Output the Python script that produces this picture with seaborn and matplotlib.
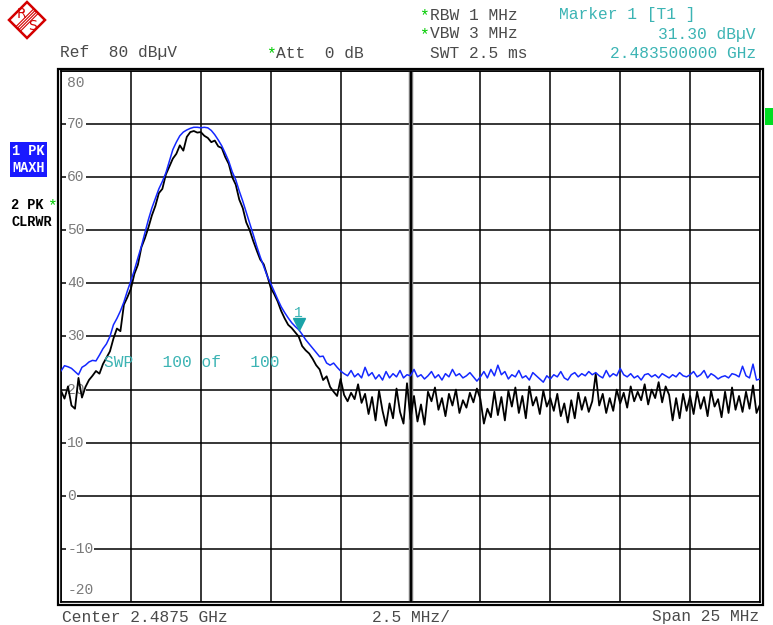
import numpy as np
import pandas as pd
import matplotlib.pyplot as plt
import seaborn as sns
from matplotlib.patches import Rectangle, Polygon
from matplotlib.lines import Line2D
from matplotlib.transforms import offset_copy

# Sweep settings (GHz / dBuV)
center_ghz = 2.4875
span_ghz = 0.025
n_points = 201
y_ticks = [80, 70, 60, 50, 40, 30, 20, 10, 0, -10, -20]
marker_freq = 2.4835
marker_level = 31.30

# Trace 1: PK / MAXH (blue)
trace1_maxh = [
    23.5, 24.5, 24.3, 24.0, 23.4, 22.8, 24.2, 24.6, 25.2, 25.5,
    25.4, 26.5, 27.7, 28.6, 30.0, 32.2, 33.4, 34.8, 36.5, 38.6,
    40.5, 42.5, 44.8, 47.0, 49.5, 52.0, 54.2, 56.0, 57.8, 59.2,
    60.8, 63.0, 65.2, 66.6, 67.8, 68.5, 68.9, 69.2, 69.4, 69.4,
    69.3, 69.4, 69.3, 68.8, 68.0, 67.0, 65.9, 64.5, 63.0, 61.0,
    59.5, 57.4, 55.5, 53.4, 51.3, 49.2, 47.0, 45.0, 43.2, 41.4,
    40.0, 38.5, 37.0, 35.6, 34.5, 33.5, 32.6, 31.9, 31.3, 30.4,
    29.4, 28.6, 27.8, 27.0, 26.2, 26.3, 25.0, 24.6, 25.0, 24.2,
    23.5,
    23.0, 22.6, 23.6, 22.4, 23.0, 22.2, 24.2, 22.6, 23.2, 22.0,
    22.8, 21.8, 23.4, 22.2, 23.0, 22.4, 23.6, 22.2, 22.8, 22.6,
    23.8, 22.4, 22.8, 22.0, 22.6, 23.4, 22.2, 22.8, 21.8, 23.0,
    22.4, 23.8, 22.6, 23.0, 22.2, 22.6, 23.2, 22.4, 21.6, 22.4,
    23.4, 22.2, 23.8, 22.6, 24.6, 22.8, 23.4, 22.0, 22.8, 22.4,
    23.6, 22.2, 22.6, 21.8, 23.2, 22.6, 22.0, 21.4, 22.6, 22.0,
    22.8, 22.4, 23.4, 22.2, 21.8, 22.8, 23.2, 22.4, 23.0, 22.6,
    23.4, 22.8, 23.2, 22.6, 22.2, 23.6, 22.4, 23.0, 22.6, 24.0,
    22.8, 22.4, 23.0, 22.2, 22.6, 21.8, 22.8, 23.0, 22.4, 22.8,
    22.2, 23.0, 22.6, 22.2, 22.8, 22.4, 23.2, 22.6, 22.4, 22.8,
    23.4, 22.4, 22.8, 23.6, 22.2, 23.0, 22.6, 22.0, 22.4, 22.6,
    22.2, 23.0, 22.8, 22.4, 24.4, 22.6, 22.2, 24.8, 21.8, 22.0,
]

# Trace 2: PK / CLRWR (black)
trace2_clrwr = [
    19.8, 18.3, 20.6, 17.0, 16.4, 22.2, 18.5, 20.5, 21.8, 22.6,
    23.5, 23.0, 24.8, 26.0, 27.2, 29.6, 31.5, 31.0, 36.0, 37.4,
    39.0, 41.8, 43.5, 46.8, 48.5, 50.5, 52.8, 54.6, 57.0, 57.8,
    60.5, 62.0, 63.5, 64.4, 66.0, 65.0, 67.6, 68.5, 68.7, 68.4,
    68.5, 67.8, 67.4, 66.6, 66.9, 65.8, 65.5, 63.8, 62.5, 60.0,
    58.6, 55.8, 54.2, 51.5, 50.0, 48.0, 46.2, 44.5, 43.6, 41.5,
    39.2, 38.0, 36.6, 34.8, 33.4, 32.2, 31.6, 30.8, 30.0, 28.2,
    27.4, 26.8, 25.8, 24.6, 23.8, 21.8, 22.5, 20.5, 19.6, 18.8,
    22.0,
    19.0, 17.8, 19.4, 18.2, 21.0, 17.5, 19.2, 15.4, 18.6, 14.2,
    19.8, 16.0, 13.2, 17.4, 14.6, 20.2, 15.8, 13.6, 21.2, 14.4,
    18.8, 14.0, 17.2, 13.4, 19.6, 17.8, 20.4, 16.2, 18.4, 15.0,
    19.2, 17.0, 20.0, 15.6, 18.0, 16.6, 19.4, 17.6, 20.2, 18.2,
    13.6, 16.4, 14.8, 19.6, 15.2, 18.6, 14.2, 19.8, 16.8, 20.4,
    15.6, 18.8, 14.6, 20.6, 17.0, 18.6, 15.4, 19.8, 16.8, 18.4,
    16.0, 19.2, 15.0, 17.4, 13.8, 18.0, 14.6, 19.4, 16.2, 18.6,
    15.8, 17.8, 23.0, 17.0, 19.2, 15.6, 18.4, 16.0, 20.0, 17.4,
    19.4, 16.6, 20.6, 17.8, 19.6, 18.0, 21.0, 17.2, 20.0, 18.4,
    21.4, 17.6, 20.6, 19.0, 14.2, 18.4, 14.6, 19.2, 16.0, 18.8,
    15.4, 19.6, 16.4, 18.6, 15.0, 19.8, 16.8, 18.2, 14.8, 19.6,
    15.6, 20.4, 16.2, 18.8, 15.8, 19.6, 16.4, 20.8, 15.6, 17.2,
]

f_start = center_ghz - span_ghz / 2
f_stop = center_ghz + span_ghz / 2
freqs = np.linspace(f_start, f_stop, n_points)
df = pd.DataFrame({"freq": freqs, "maxh": trace1_maxh, "clrwr": trace2_clrwr})

sns.set_style("white")
plt.rcParams["font.family"] = ["Liberation Mono", "DejaVu Sans Mono"]

W, H = 773, 625
fig = plt.figure(figsize=(W / 100, H / 100), dpi=100)


def px(x, y):
    """Pixel position (top-left origin) to figure fraction."""
    return x / W, 1 - y / H


ax_l, ax_r, ax_t, ax_b = 61, 760, 71, 602
ax = fig.add_axes([ax_l / W, 1 - ax_b / H, (ax_r - ax_l) / W, (ax_b - ax_t) / H])

sns.lineplot(data=df, x="freq", y="maxh", ax=ax, color="#1428ff", lw=1.1, zorder=4)
sns.lineplot(data=df, x="freq", y="clrwr", ax=ax, color="black", lw=1.3, zorder=3)

ax.set_xlim(f_start, f_stop)
ax.set_ylim(y_ticks[-1], y_ticks[0])
ax.set_xticks(np.linspace(f_start, f_stop, 11))
ax.set_yticks(y_ticks)
ax.tick_params(length=0, labelbottom=False, labelleft=False)
ax.set_xlabel("")
ax.set_ylabel("")
ax.grid(True, color="black", lw=1.1)
ax.set_axisbelow(True)
ax.axvline(center_ghz, color="#777777", lw=3.2, zorder=1)
ax.axvline(center_ghz, color="black", lw=1.4, zorder=1)
for s in ax.spines.values():
    s.set_color("black")
    s.set_linewidth(1.2)

# outer frame line
fig.patches.append(Rectangle(px(ax_l - 2.5, ax_b + 2.5), (ax_r - ax_l + 5) / W,
                             (ax_b - ax_t + 5) / H, transform=fig.transFigure,
                             fill=False, ec="black", lw=1.6))

# level labels sitting on the grid lines (traces draw over them)
for v in y_ticks:
    yv = v
    if v == y_ticks[0]:
        yv = v - 2.2
    elif v == y_ticks[-1]:
        yv = v + 2.2
    ax.text(0.009, yv, f"{v}", transform=ax.get_yaxis_transform(), ha="left",
            va="center", fontsize=10.5, color="#7a7a7a", zorder=2,
            bbox=dict(facecolor="white", edgecolor="none", pad=0.6))

# marker 1
tri = offset_copy(ax.transData, fig=fig, x=0, y=4, units="points")
ax.plot([marker_freq], [marker_level], marker="v", ms=8, color="#1aa3a8",
        transform=tri, zorder=6)
ax.annotate("1", (marker_freq, marker_level), xytext=(0, 12),
            textcoords="offset points", ha="center", va="center",
            fontsize=10.5, color="#3cb4b4", zorder=6)

cyan = "#3cb4b4"
gray = "#4a4a4a"
green = "#00cc00"
fs = 11.7

# header
fig.text(*px(60, 53), "Ref  80 dB\u00b5V", fontsize=fs, color=gray, va="center")
fig.text(*px(266, 54), "*", fontsize=fs, color=green, va="center")
fig.text(*px(276, 53), "Att  0 dB", fontsize=fs, color=gray, va="center")
fig.text(*px(419, 16), "*", fontsize=fs, color=green, va="center")
fig.text(*px(430, 15), "RBW 1 MHz", fontsize=fs, color=gray, va="center")
fig.text(*px(419, 35), "*", fontsize=fs, color=green, va="center")
fig.text(*px(430, 34), "VBW 3 MHz", fontsize=fs, color=gray, va="center")
fig.text(*px(430, 53), "SWT 2.5 ms", fontsize=fs, color=gray, va="center")
fig.text(*px(559, 15), "Marker 1 [T1 ]", fontsize=fs, color=cyan, va="center")
fig.text(*px(756, 34), "31.30 dB\u00b5V", fontsize=fs, color=cyan, va="center", ha="right")
fig.text(*px(756, 53), "2.483500000 GHz", fontsize=fs, color=cyan, va="center", ha="right")

# footer
fig.text(*px(62, 617), "Center 2.4875 GHz", fontsize=fs, color=gray, va="center")
fig.text(*px(372, 617), "2.5 MHz/", fontsize=fs, color=gray, va="center")
fig.text(*px(759, 617), "Span 25 MHz", fontsize=fs, color=gray, va="center", ha="right")

# sweep counter
fig.text(*px(104, 362), "SWP   100 of   100", fontsize=fs, color=cyan, va="center",
         zorder=1)

# trace labels
box = dict(facecolor="#1a1aff", edgecolor="none", pad=1.8)
fig.text(*px(12, 151), "1 PK", fontsize=9.8, color="white", weight="bold", va="center", bbox=box)
fig.text(*px(12, 168), "MAXH", fontsize=9.8, color="white", weight="bold", va="center", bbox=box)
fig.text(*px(11, 205), "2 PK", fontsize=9.8, color="black", weight="bold", va="center")
fig.text(*px(47, 206), "*", fontsize=fs, color=green, va="center")
fig.text(*px(11, 222), "CLRWR", fontsize=9.8, color="black", weight="bold", va="center")

# green status block
fig.patches.append(Rectangle(px(765, 125), 8 / W, 17 / H, transform=fig.transFigure,
                             fc="#00dd22", ec="none"))

# R&S logo
red = "#d40000"
diamond = [px(27, 2), px(45, 20), px(27, 38), px(9, 20)]
fig.patches.append(Polygon(diamond, closed=True, fill=False, ec=red, lw=1.8,
                           transform=fig.transFigure))
for k in [-2.2, -0.7, 0.8, 2.3]:
    x0, y0 = px(18 + k, 29 + k)
    x1, y1 = px(36 + k, 11 + k)
    fig.lines.append(Line2D([x0, x1], [y0, y1], color=red, lw=0.8,
                            transform=fig.transFigure))
fig.text(*px(21.5, 13.5), "R", fontsize=10, color=red, ha="center", va="center",
         family="DejaVu Sans")
fig.text(*px(32.5, 26.5), "S", fontsize=10, color=red, ha="center", va="center",
         family="DejaVu Sans")

fig.savefig("out.png", dpi=100, facecolor="white")
